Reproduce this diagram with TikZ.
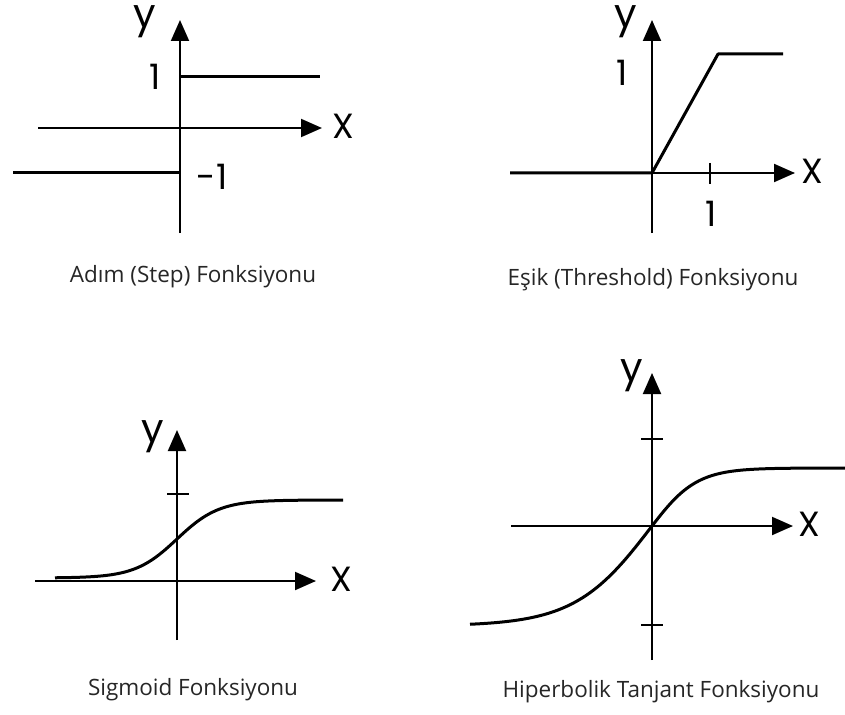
\documentclass[tikz,border=0pt]{standalone}
\usepackage{fontspec}
\setmainfont{Open Sans}
\newfontfamily\labelfont{Poppins}
\usetikzlibrary{arrows.meta}

\begin{document}
\begin{tikzpicture}[x=1pt,y=-1pt,
  axis/.style={line width=2pt,-{Triangle[length=21pt,width=18pt]}},
  curve/.style={line width=3pt,line join=round},
  tickmark/.style={line width=2pt},
  lbl/.style={font=\labelfont\fontsize{35}{35}\selectfont,inner sep=0pt},
  ylbl/.style={font=\labelfont\fontsize{40}{40}\selectfont,inner sep=0pt},
  caption/.style={font=\fontsize{22.5}{24}\selectfont,text=black!85,inner sep=0pt}]
  \useasboundingbox (0,0) rectangle (845,714);

  % Adim (Step)
  \coordinate (ya0) at (180,233);  \coordinate (ya1) at (180,20);
  \coordinate (xa0) at (38,128);   \coordinate (xa1) at (322,128);
  \draw[axis] (ya0) -- (ya1);
  \draw[axis] (xa0) -- (xa1);
  \draw[curve] (180,77) -- (320,77);
  \draw[curve] (13,173) -- (180,173);
  \node[ylbl] (ya) at (145,22) {y};
  \node[lbl] (xa) at (343,126) {X};
  \node[lbl] (onea) at (155,77) {1};
  \node[lbl] (mona) at (212,177) {-1};
  \node[caption] (capa) at (193,277) {Adım (Step) Fonksiyonu};

  % Esik (Threshold)
  \coordinate (yb0) at (652,233);  \coordinate (yb1) at (652,20);
  \coordinate (xb0) at (510,173);  \coordinate (xb1) at (795,173);
  \draw[axis] (yb0) -- (yb1);
  \draw[axis] (xb0) -- (xb1);
  \draw[curve] (510,173) -- (652,173) -- (718,54) -- (783,54);
  \draw[tickmark] (710,163) -- (710,184);
  \node[ylbl] (yb) at (626,22) {y};
  \node[lbl] (xb) at (812,171) {X};
  \node[lbl] (oneb) at (622,73) {1};
  \node[lbl] (onex) at (711,214) {1};
  \node[caption] (capb) at (653,280) {Eşik (Threshold) Fonksiyonu};

  % Sigmoid
  \coordinate (yc0) at (177,640);  \coordinate (yc1) at (177,430);
  \coordinate (xc0) at (35,581);   \coordinate (xc1) at (316,581);
  \draw[axis] (yc0) -- (yc1);
  \draw[axis] (xc0) -- (xc1);
  \draw[tickmark] (167,494) -- (189,494);
  \draw[curve] plot[domain=55:343,samples=120,smooth]
    (\x,{578-78/(1+exp(-(\x-177)/21))});
  \node[ylbl] (yc) at (153,437) {y};
  \node[lbl] (xc) at (341,579) {X};
  \node[caption] (capc) at (193,690) {Sigmoid Fonksiyonu};

  % Hiperbolik Tanjant
  \coordinate (yd0) at (652,660);  \coordinate (yd1) at (652,373);
  \coordinate (xd0) at (511,526);  \coordinate (xd1) at (793,526);
  \draw[axis] (yd0) -- (yd1);
  \draw[axis] (xd0) -- (xd1);
  \foreach \t in {439,625}
    \draw[tickmark] (641,\t) -- (663,\t);
  \draw[curve] plot[domain=470:652,samples=80,smooth]
    (\x,{526+100*tanh((652-\x)/77)})
    -- plot[domain=652:845,samples=80,smooth]
    (\x,{526-58*tanh((\x-652)/45)});
  \node[ylbl] (yd) at (632,376) {y};
  \node[lbl] (xd) at (809,524) {X};
  \node[caption] (capd) at (661,692) {Hiperbolik Tanjant Fonksiyonu};
\end{tikzpicture}
\end{document}
